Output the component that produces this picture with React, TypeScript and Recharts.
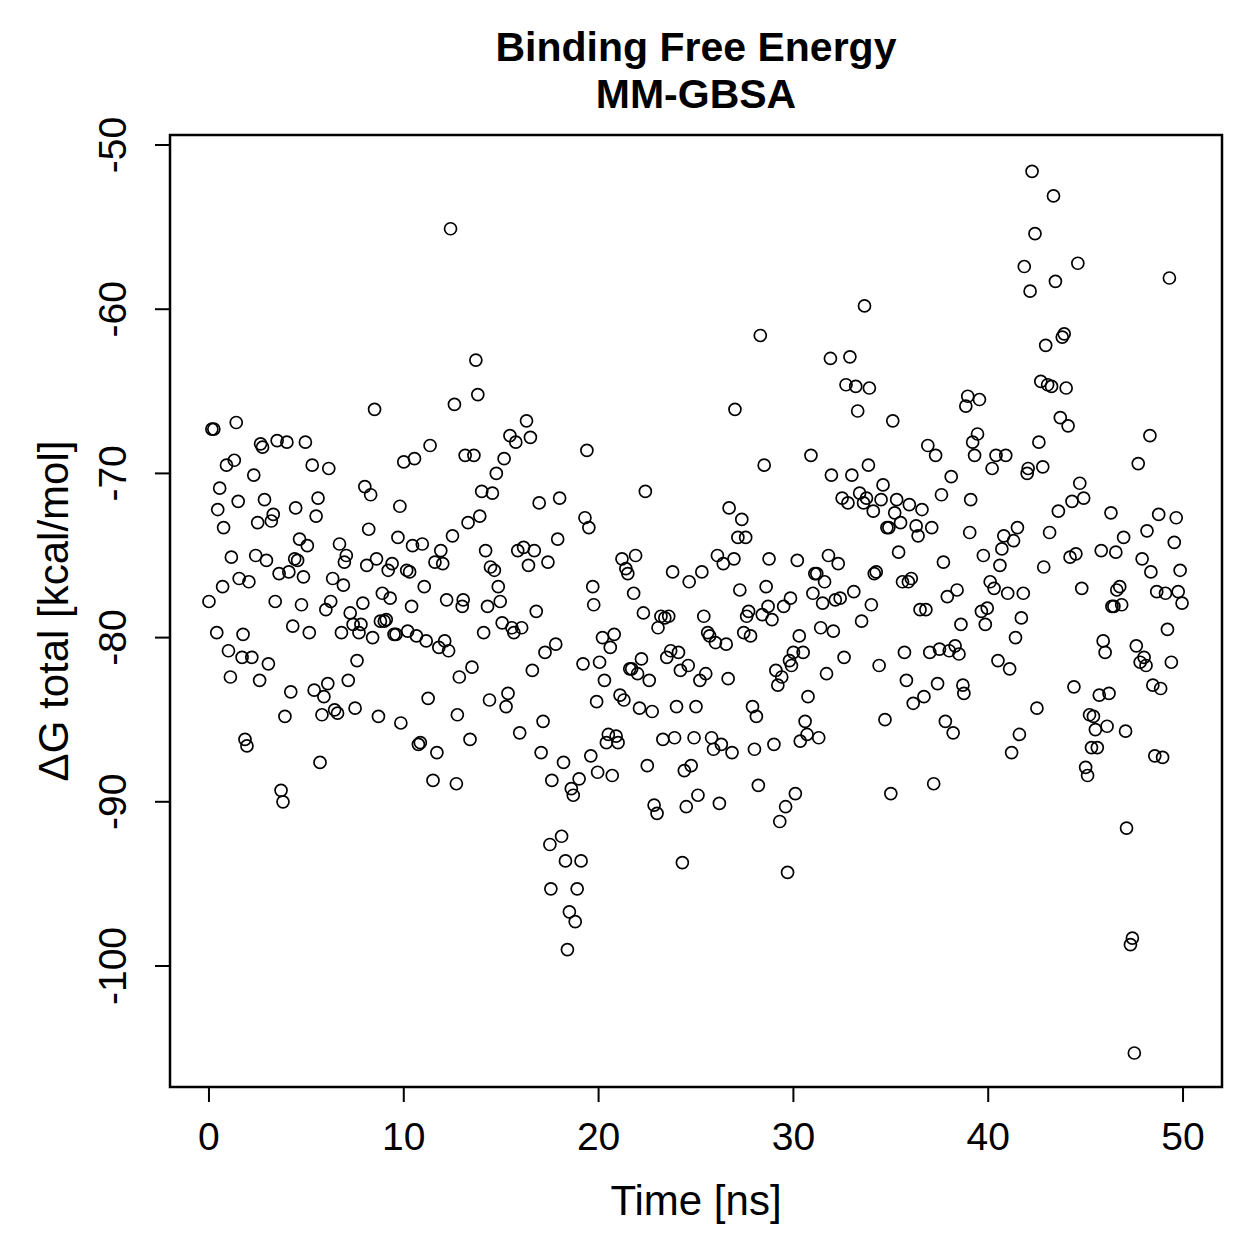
import React from "react";
import {
  ScatterChart,
  Scatter,
  XAxis,
  YAxis,
  ReferenceArea,
} from "recharts";

// MM-GBSA binding free energy per frame: [time (ns), ΔG total (kcal/mol)]
const frames0to10: [number, number][] = [
  [0, -77.8], [0.15, -67.3], [0.25, -67.3], [0.4, -79.7], [0.45, -72.2], [0.55, -70.9],
  [0.7, -76.9], [0.75, -73.3], [0.9, -69.5], [1.0, -80.8], [1.1, -82.4], [1.15, -75.1],
  [1.3, -69.2], [1.4, -66.9], [1.5, -71.7], [1.55, -76.4], [1.7, -81.2], [1.75, -79.8],
  [1.85, -86.2], [1.95, -86.6], [2.05, -76.6], [2.2, -81.2], [2.3, -70.1], [2.4, -75.0],
  [2.5, -73.0], [2.6, -82.6], [2.65, -68.2], [2.75, -68.4], [2.85, -71.6], [2.95, -75.3],
  [3.05, -81.6], [3.2, -72.9], [3.3, -72.5], [3.4, -77.8], [3.5, -68.0], [3.6, -76.1],
  [3.7, -89.3], [3.8, -90.0], [3.9, -84.8], [4.0, -68.1], [4.1, -76.0], [4.2, -83.3],
  [4.3, -79.3], [4.4, -75.2], [4.45, -72.1], [4.55, -75.3], [4.65, -74.0], [4.75, -78.0],
  [4.85, -76.3], [4.95, -68.1], [5.05, -74.4], [5.15, -79.7], [5.3, -69.5], [5.4, -83.2],
  [5.5, -72.6], [5.6, -71.5], [5.7, -87.6], [5.8, -84.7], [5.9, -83.6], [6.0, -78.3],
  [6.1, -82.8], [6.15, -69.7], [6.25, -77.8], [6.35, -76.4], [6.45, -84.4], [6.6, -84.6],
  [6.7, -74.3], [6.8, -79.7], [6.9, -76.8], [6.95, -75.4], [7.05, -75.0], [7.15, -82.6],
  [7.25, -78.5], [7.4, -79.2], [7.5, -84.3], [7.6, -81.4], [7.7, -79.7], [7.8, -79.2],
  [7.9, -77.9], [8.0, -70.8], [8.1, -75.6], [8.2, -73.4], [8.3, -71.3], [8.4, -80.0],
  [8.5, -66.1], [8.6, -75.2], [8.7, -84.8], [8.8, -79.0], [8.9, -77.3], [9.0, -79.0],
  [9.1, -78.9], [9.2, -75.9], [9.3, -77.6], [9.4, -75.5], [9.5, -79.8], [9.6, -79.8],
  [9.7, -73.9], [9.8, -72.0], [9.85, -85.2],
];

const frames10to20: [number, number][] = [
  [10.0, -69.3], [10.15, -75.9], [10.2, -79.6], [10.3, -76.0], [10.4, -78.1], [10.45, -74.4],
  [10.55, -69.1], [10.65, -79.9], [10.75, -86.5], [10.85, -86.4], [10.95, -74.3], [11.05, -76.9],
  [11.15, -80.2], [11.25, -83.7], [11.35, -68.3], [11.5, -88.7], [11.6, -75.4], [11.7, -87.0],
  [11.8, -80.6], [11.9, -74.7], [12.0, -75.5], [12.1, -80.2], [12.2, -77.7], [12.3, -80.8],
  [12.4, -55.1], [12.5, -73.8], [12.6, -65.8], [12.7, -88.9], [12.75, -84.7], [12.85, -82.4],
  [13.0, -78.1], [13.05, -77.7], [13.15, -68.9], [13.3, -73.0], [13.4, -86.2], [13.5, -81.8],
  [13.6, -68.9], [13.7, -63.1], [13.8, -65.2], [13.9, -72.6], [14.0, -71.1], [14.1, -79.7],
  [14.2, -74.7], [14.3, -78.1], [14.4, -83.8], [14.45, -75.7], [14.55, -71.2], [14.65, -75.9],
  [14.75, -70.0], [14.85, -76.9], [14.95, -77.8], [15.05, -79.1], [15.15, -69.1], [15.25, -84.2],
  [15.35, -83.4], [15.45, -67.7], [15.55, -79.4], [15.65, -79.7], [15.75, -68.1], [15.85, -74.7],
  [15.95, -85.8], [16.05, -79.4], [16.15, -74.5], [16.3, -66.8], [16.4, -75.6], [16.5, -67.8],
  [16.6, -82.0], [16.7, -74.7], [16.8, -78.4], [16.95, -71.8], [17.05, -87.0], [17.15, -85.1],
  [17.25, -80.9], [17.4, -75.4], [17.5, -92.6], [17.55, -95.3], [17.6, -88.7], [17.8, -80.4],
  [17.9, -74.0], [18.0, -71.5], [18.1, -92.1], [18.2, -87.6], [18.3, -93.6], [18.4, -99.0],
  [18.5, -96.7], [18.6, -89.2], [18.7, -89.6], [18.8, -97.3], [18.9, -95.3], [19.0, -88.6],
  [19.1, -93.6], [19.2, -81.6], [19.3, -72.7], [19.4, -68.6], [19.5, -73.3], [19.6, -87.2],
  [19.7, -76.9], [19.75, -78.0], [19.9, -83.9], [19.95, -88.2],
];

const frames20to30: [number, number][] = [
  [20.05, -81.5], [20.2, -80.0], [20.3, -82.6], [20.4, -86.4], [20.5, -85.9], [20.6, -80.6],
  [20.7, -88.4], [20.8, -79.8], [20.9, -86.0], [21.0, -86.4], [21.1, -83.5], [21.2, -75.2],
  [21.3, -83.8], [21.4, -75.8], [21.5, -76.1], [21.6, -81.9], [21.7, -81.9], [21.8, -77.3],
  [21.9, -75.0], [22.0, -82.2], [22.1, -84.3], [22.2, -81.3], [22.3, -78.5], [22.4, -71.1],
  [22.5, -87.8], [22.6, -82.6], [22.75, -84.5], [22.85, -90.2], [23.0, -90.7], [23.05, -79.4],
  [23.2, -78.7], [23.3, -86.2], [23.4, -78.8], [23.5, -81.2], [23.6, -78.7], [23.7, -80.8],
  [23.8, -76.0], [23.9, -86.1], [24.0, -84.2], [24.1, -80.9], [24.2, -82.0], [24.3, -93.7],
  [24.4, -88.1], [24.5, -90.3], [24.6, -81.7], [24.65, -76.6], [24.75, -87.8], [24.9, -86.1],
  [25.0, -84.2], [25.1, -89.6], [25.2, -82.6], [25.3, -76.0], [25.4, -78.7], [25.5, -82.2],
  [25.6, -79.7], [25.7, -79.9], [25.8, -86.1], [25.9, -86.8], [26.0, -80.3], [26.1, -75.0],
  [26.2, -90.1], [26.3, -86.5], [26.4, -75.5], [26.55, -80.4], [26.65, -82.5], [26.7, -72.1],
  [26.85, -87.0], [26.95, -75.2], [27.0, -66.1], [27.15, -73.9], [27.25, -77.1], [27.35, -72.8],
  [27.45, -79.7], [27.55, -73.9], [27.6, -78.7], [27.7, -78.4], [27.8, -79.9], [27.9, -84.2],
  [28.0, -86.8], [28.1, -84.8], [28.2, -89.0], [28.3, -61.6], [28.4, -78.6], [28.5, -69.5],
  [28.6, -76.9], [28.7, -78.1], [28.75, -75.2], [28.9, -78.9], [29.0, -86.5], [29.1, -82.0],
  [29.2, -82.9], [29.3, -91.2], [29.4, -82.4], [29.5, -78.1], [29.6, -90.3], [29.7, -94.3],
  [29.8, -81.4], [29.85, -77.6], [29.9, -81.7],
];

const frames30to40: [number, number][] = [
  [30.0, -80.9], [30.1, -89.5], [30.2, -75.3], [30.3, -79.9], [30.35, -86.3], [30.5, -80.9],
  [30.6, -85.1], [30.7, -85.9], [30.75, -83.6], [30.9, -68.9], [31.0, -77.3], [31.1, -76.1],
  [31.2, -76.1], [31.3, -86.1], [31.4, -79.4], [31.5, -77.9], [31.6, -76.6], [31.7, -82.2],
  [31.8, -75.0], [31.9, -63.0], [31.95, -70.1], [32.05, -79.6], [32.15, -77.7], [32.3, -75.5],
  [32.4, -77.6], [32.5, -71.5], [32.6, -81.2], [32.7, -64.6], [32.8, -71.8], [32.9, -62.9],
  [33.0, -70.1], [33.1, -77.2], [33.2, -64.7], [33.3, -66.2], [33.4, -71.2], [33.5, -79.0],
  [33.6, -71.8], [33.65, -59.8], [33.75, -71.5], [33.85, -69.5], [33.9, -64.8], [34.0, -78.0],
  [34.1, -72.3], [34.15, -76.1], [34.25, -76.0], [34.4, -81.7], [34.5, -71.6], [34.6, -70.7],
  [34.7, -85.0], [34.8, -73.3], [34.9, -73.3], [35.0, -89.5], [35.1, -66.8], [35.2, -72.4],
  [35.3, -71.6], [35.4, -74.8], [35.5, -73.0], [35.6, -76.6], [35.7, -80.9], [35.8, -82.6],
  [35.9, -76.6], [35.95, -71.9], [36.05, -76.4], [36.15, -84.0], [36.3, -73.2], [36.4, -73.8],
  [36.5, -78.3], [36.6, -72.2], [36.7, -83.6], [36.8, -78.3], [36.9, -68.3], [37.0, -80.9],
  [37.1, -73.3], [37.2, -88.9], [37.3, -68.9], [37.4, -82.8], [37.5, -80.7], [37.6, -71.3],
  [37.7, -75.4], [37.8, -85.1], [37.9, -77.5], [38.0, -80.8], [38.1, -70.2], [38.2, -85.8],
  [38.3, -80.5], [38.4, -77.1], [38.5, -81.0], [38.6, -79.2], [38.7, -82.9], [38.75, -83.4],
  [38.85, -65.9], [38.95, -65.3], [39.05, -73.6], [39.1, -71.6], [39.2, -68.1], [39.3, -68.9],
  [39.45, -67.6], [39.55, -65.5], [39.65, -78.4], [39.75, -75.0], [39.85, -79.2], [39.95, -78.2],
];

const frames40to50: [number, number][] = [
  [40.1, -76.6], [40.2, -69.7], [40.3, -77.0], [40.4, -68.9], [40.5, -81.4], [40.6, -75.6],
  [40.7, -74.6], [40.8, -73.8], [40.9, -68.9], [41.0, -77.3], [41.1, -81.9], [41.2, -87.0],
  [41.3, -74.1], [41.4, -80.0], [41.5, -73.3], [41.6, -85.9], [41.7, -78.8], [41.8, -77.3],
  [41.85, -57.4], [42.0, -70.0], [42.05, -69.7], [42.15, -58.9], [42.25, -51.6], [42.4, -55.4],
  [42.5, -84.3], [42.6, -68.1], [42.7, -64.4], [42.8, -69.6], [42.85, -75.7], [42.95, -62.2],
  [43.05, -64.6], [43.15, -73.6], [43.25, -64.7], [43.35, -53.1], [43.45, -58.3], [43.6, -72.3],
  [43.7, -66.6], [43.8, -61.7], [43.9, -61.5], [44.0, -64.8], [44.1, -67.1], [44.2, -75.1],
  [44.3, -71.7], [44.4, -83.0], [44.5, -74.9], [44.6, -57.2], [44.7, -70.6], [44.8, -77.0],
  [44.9, -71.5], [45.0, -87.9], [45.1, -88.4], [45.2, -84.7], [45.3, -86.7], [45.4, -84.8],
  [45.5, -85.6], [45.6, -86.7], [45.7, -83.5], [45.8, -74.7], [45.9, -80.2], [46.0, -80.9],
  [46.1, -85.4], [46.2, -83.4], [46.3, -72.4], [46.35, -78.1], [46.45, -78.1], [46.55, -74.8],
  [46.6, -77.1], [46.75, -76.9], [46.85, -78.0], [46.95, -73.9], [47.05, -85.7], [47.1, -91.6],
  [47.3, -98.7], [47.4, -98.3], [47.5, -105.3], [47.6, -80.5], [47.7, -69.4], [47.8, -81.5],
  [47.9, -75.2], [48.0, -81.2], [48.1, -81.7], [48.15, -73.5], [48.3, -67.7], [48.35, -76.0],
  [48.45, -82.9], [48.55, -87.2], [48.65, -77.2], [48.75, -72.5], [48.85, -83.1], [48.95, -87.3],
  [49.1, -77.3], [49.2, -79.5], [49.3, -58.1], [49.4, -81.5], [49.55, -74.2], [49.65, -72.7],
  [49.75, -77.2], [49.85, -75.9], [49.95, -77.9],
];

const timeTicks = [0, 10, 20, 30, 40, 50];
const energyTicks = [-100, -90, -80, -70, -60, -50];

const points = [
  ...frames0to10,
  ...frames10to20,
  ...frames20to30,
  ...frames30to40,
  ...frames40to50,
].map(([time, dG]) => ({ time, dG }));

const FONT = "'Liberation Sans', Arial, Helvetica, sans-serif";
const W = 1259;
const H = 1259;

const OpenCircle = (props: any) => (
  <circle cx={props.cx} cy={props.cy} r={6} fill="none" stroke="#000" strokeWidth={1.7} />
);

const YTick = (props: any) => {
  const { y, payload } = props;
  const x = 126;
  return (
    <text
      x={x}
      y={y}
      transform={`rotate(-90 ${x} ${y})`}
      textAnchor="middle"
      fontFamily={FONT}
      fontSize={39}
      fill="#000"
    >
      {payload.value}
    </text>
  );
};

const XTick = (props: any) => {
  const { x, payload } = props;
  return (
    <text x={x} y={1150} textAnchor="middle" fontFamily={FONT} fontSize={39} fill="#000">
      {payload.value}
    </text>
  );
};

export default function App() {
  return (
    <div style={{ position: "absolute", left: 0, top: 0, width: W, height: H, background: "#fff" }}>
      <ScatterChart
        width={W}
        height={H}
        margin={{ top: 135, right: 37, bottom: 112, left: 70 }}
      >
        <XAxis
          type="number"
          dataKey="time"
          domain={[-2, 52]}
          ticks={timeTicks}
          allowDataOverflow
          height={60}
          axisLine={false}
          tickLine={{ stroke: "#000", strokeWidth: 2 }}
          tickSize={15}
          tick={<XTick />}
        />
        <YAxis
          type="number"
          dataKey="dG"
          domain={[-107.37, -49.39]}
          ticks={energyTicks}
          allowDataOverflow
          width={100}
          axisLine={false}
          tickLine={{ stroke: "#000", strokeWidth: 2 }}
          tickSize={15}
          tick={<YTick />}
        />
        <ReferenceArea
          x1={-2}
          x2={52}
          y1={-107.37}
          y2={-49.39}
          fill="none"
          stroke="#000"
          strokeWidth={2.5}
          fillOpacity={0}
        />
        <Scatter data={points} shape={<OpenCircle />} isAnimationActive={false} />
      </ScatterChart>
      <svg
        width={W}
        height={H}
        style={{ position: "absolute", left: 0, top: 0, pointerEvents: "none" }}
      >
        <text x={696} y={61} textAnchor="middle" fontFamily={FONT} fontSize={41} fontWeight="bold">
          Binding Free Energy
        </text>
        <text x={696} y={108} textAnchor="middle" fontFamily={FONT} fontSize={41} fontWeight="bold">
          MM-GBSA
        </text>
        <text x={696} y={1215} textAnchor="middle" fontFamily={FONT} fontSize={42}>
          Time [ns]
        </text>
        <text
          x={68}
          y={611}
          transform="rotate(-90 68 611)"
          textAnchor="middle"
          fontFamily={FONT}
          fontSize={42}
        >
          ΔG total [kcal/mol]
        </text>
      </svg>
    </div>
  );
}
